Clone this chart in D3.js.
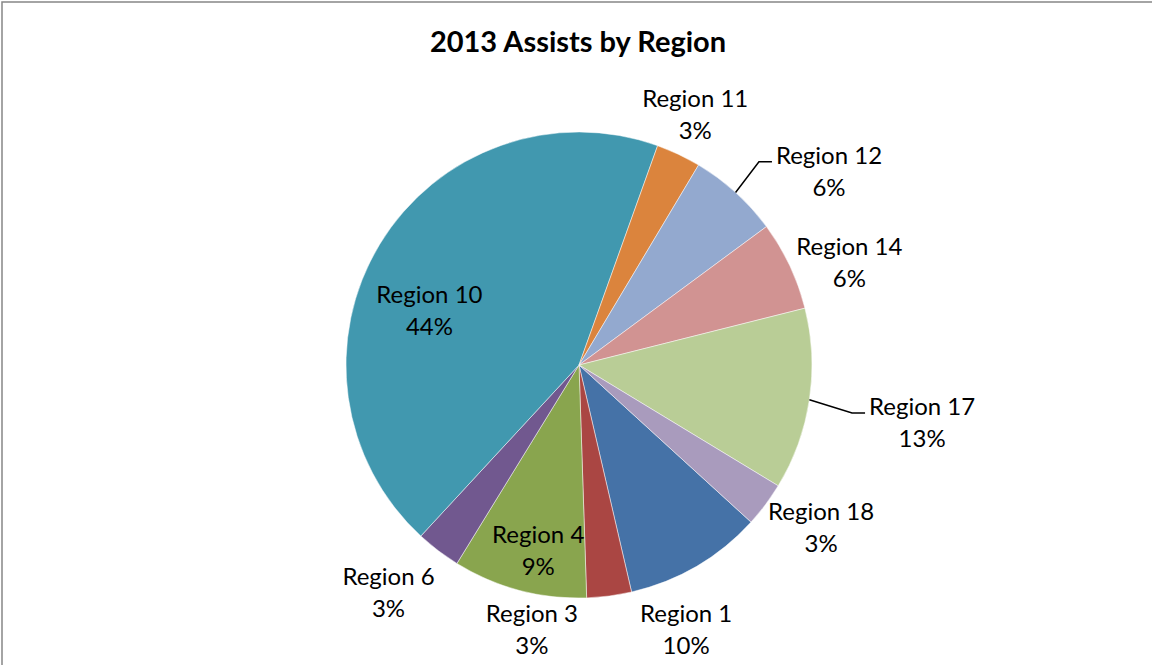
<!DOCTYPE html>
<html>
<head>
<meta charset="utf-8">
<script src="https://cdn.jsdelivr.net/npm/d3@7.9.0/dist/d3.min.js"></script>
<style>
  html, body { margin: 0; padding: 0; background: #fff; }
  svg { display: block; }
  text { font-family: Lato, "Open Sans", sans-serif; fill: #000; }
</style>
</head>
<body>
<svg id="chart" width="1152" height="665"></svg>
<script>
// data (shares of assists, 2013)
const regions = ['Region 1', 'Region 3', 'Region 4', 'Region 6', 'Region 10',
                 'Region 11', 'Region 12', 'Region 14', 'Region 17', 'Region 18'];
const shares = [9.6, 3.1, 9.3, 3.1, 43.6, 3.1, 6.3, 6.2, 12.6, 3.1];
const colorList = ['#4572a7', '#aa4643', '#89a54e', '#71588f', '#4198af',
                   '#db843d', '#93a9cf', '#d19392', '#b9cd96', '#a99bbd'];

// where each label sits (angle in degrees clockwise from 12 o'clock, distance from centre)
const labelLayout = {
    'Region 1': [158.0, 286],
    'Region 3': [190.1, 269],
    'Region 4': [192.4, 190],
    'Region 6': [219.9, 297],
    'Region 10': [289.8, 159],
    'Region 11': [24.9, 276],
    'Region 12': [52.3, 316],
    'Region 14': [69.3, 289],
    'Region 17': [99.6, 348],
    'Region 18': [124.0, 292]
};
const withLeader = ['Region 12', 'Region 17'];

const svg = d3.select('#chart');
const cx = 579, cy = 365, radius = 233;
const rad = (deg) => deg * Math.PI / 180;
const startAngle = rad(132.4);

// chart frame (cropped on the right and bottom like the original)
svg.append('rect')
    .attr('x', 2).attr('y', 2)
    .attr('width', 1170).attr('height', 690)
    .attr('fill', 'none')
    .attr('stroke', '#868686')
    .attr('stroke-width', 1.5);

svg.append('text')
    .attr('x', 578).attr('y', 52)
    .attr('text-anchor', 'middle')
    .attr('font-size', 29)
    .attr('font-weight', 'bold')
    .text('2013 Assists by Region');

const data = regions.map((name, i) => ({ name, value: shares[i] }));
const total = d3.sum(shares);
const color = d3.scaleOrdinal().domain(regions).range(colorList);

const pie = d3.pie()
    .sort(null)
    .value((d) => d.value)
    .startAngle(startAngle)
    .endAngle(startAngle + 2 * Math.PI);
const arcGenerator = d3.arc().innerRadius(0).outerRadius(radius);
const arcData = pie(data);

const g = svg.append('g').attr('transform', `translate(${cx},${cy})`);

g.selectAll('path')
    .data(arcData)
    .join('path')
    .attr('d', arcGenerator)
    .attr('fill', (d) => color(d.data.name))
    .attr('stroke', '#ffffff')
    .attr('stroke-opacity', 0.6)
    .attr('stroke-width', 0.8);

const polar = (deg, dist) => [dist * Math.sin(rad(deg)), -dist * Math.cos(rad(deg))];
const fontSize = 24;

arcData.forEach((d) => {
    const name = d.data.name;
    const [ang, dist] = labelLayout[name];
    const [lx, ly] = polar(ang, dist);
    const b1 = ly - 8;
    const pct = Math.round(d.data.value / total * 100) + '%';

    const label = g.append('text')
        .attr('text-anchor', 'middle')
        .attr('font-size', fontSize);
    label.append('tspan').attr('x', lx).attr('y', b1).text(name);
    label.append('tspan').attr('x', lx).attr('y', b1 + 32).text(pct);

    if (withLeader.includes(name)) {
        const mid = (d.startAngle + d.endAngle) / 2;
        const sx = radius * Math.sin(mid), sy = -radius * Math.cos(mid);
        const w = label.select('tspan').node().getComputedTextLength();
        const ex = lx - w / 2 - 4, ey = b1 - 2;
        g.append('path')
            .attr('d', d3.line()([[sx, sy], [ex - 13, ey], [ex, ey]]))
            .attr('fill', 'none')
            .attr('stroke', '#000')
            .attr('stroke-width', 1.5);
    }
});
</script>
</body>
</html>
